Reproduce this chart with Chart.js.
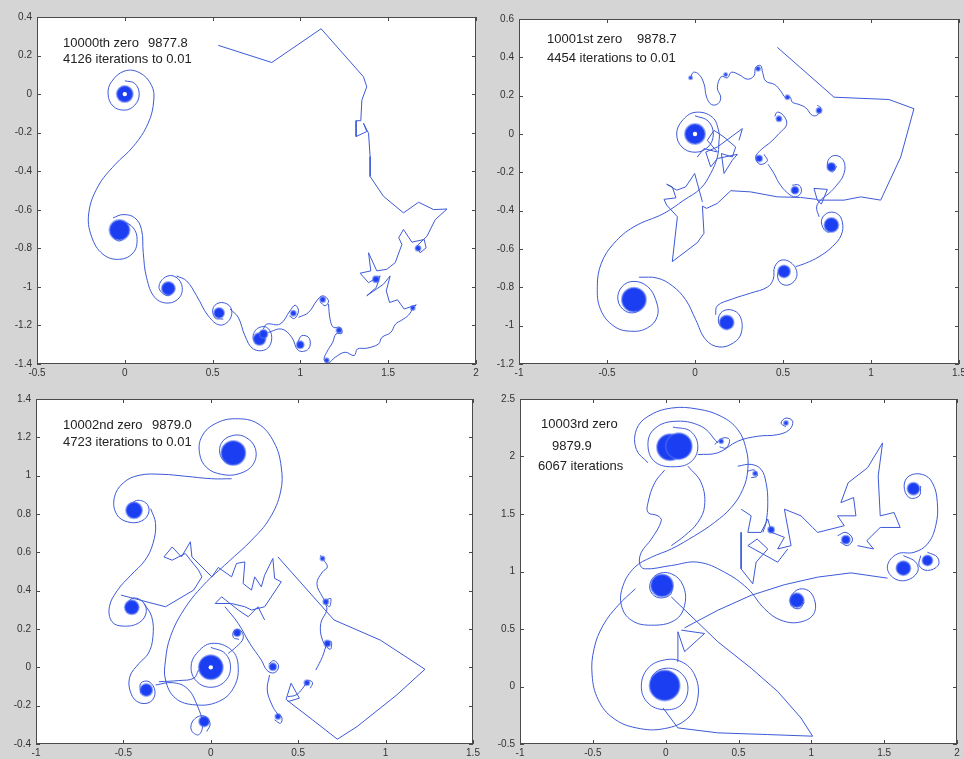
<!DOCTYPE html>
<html>
<head>
<meta charset="utf-8">
<script src="https://cdn.jsdelivr.net/npm/chart.js@4"></script>
<style>
html, body { margin: 0; padding: 0; background: #d5d5d5; overflow: hidden; width: 964px; height: 759px; }
canvas { position: absolute; }
.note { position: absolute; font: 13px "Liberation Sans", Arial, sans-serif; color: #222; line-height: 15px; white-space: nowrap; }
</style>
</head>
<body>
<canvas id="tl"></canvas>
<canvas id="tr"></canvas>
<canvas id="bl"></canvas>
<canvas id="br"></canvas>

<div class="note" style="left:63px;top:35px">10000th zero</div>
<div class="note" style="left:148px;top:35px">9877.8</div>
<div class="note" style="left:63px;top:51px">4126 iterations to 0.01</div>

<div class="note" style="left:547px;top:31px">10001st zero</div>
<div class="note" style="left:637px;top:31px">9878.7</div>
<div class="note" style="left:547px;top:50px">4454 iterations to 0.01</div>

<div class="note" style="left:63px;top:417px">10002nd zero</div>
<div class="note" style="left:152px;top:417px">9879.0</div>
<div class="note" style="left:63px;top:434px">4723 iterations to 0.01</div>

<div class="note" style="left:541px;top:416px">10003rd zero</div>
<div class="note" style="left:552px;top:438px">9879.9</div>
<div class="note" style="left:538px;top:458px">6067 iterations</div>

<script>
// ---- 10000th zero (top left) ----
const tlCurve = [
  [0,0.069],[0.057,0.055],[0.082,0],[0.057,-0.057],[0,-0.083],[-0.067,-0.062],[-0.095,0],[-0.076,0.064],
  [0,0.12],[0.086,0.11],[0.152,0.046],[0.165,-0.031],[0.133,-0.151],[0.048,-0.272],[-0.057,-0.367],
  [-0.152,-0.478],[-0.205,-0.616],[-0.19,-0.737],[-0.124,-0.831],[-0.029,-0.857],[0.048,-0.823],
  [0.07,-0.754],[0.048,-0.694],[-0.01,-0.664],[-0.067,-0.685],[-0.076,-0.728],[-0.029,-0.762],[0.019,-0.719],
  null,
  [-0.067,-0.642],[-0.01,-0.625],[0.057,-0.642],[0.095,-0.702],[0.105,-0.823],[0.124,-0.952],[0.171,-1.055],
  [0.247,-1.084],[0.314,-1.052],[0.323,-0.986],[0.276,-0.943],[0.219,-0.957],[0.196,-1.009],[0.247,-1.046],[0.285,-1.009],
  null,
  [0.295,-0.943],[0.352,-0.969],[0.409,-1.046],[0.475,-1.15],[0.542,-1.198],[0.599,-1.167],[0.603,-1.107],
  [0.551,-1.081],[0.504,-1.107],[0.513,-1.16],[0.561,-1.167],
  null,
  [0.599,-1.115],[0.646,-1.158],[0.684,-1.253],[0.732,-1.322],[0.808,-1.322],[0.837,-1.262],[0.808,-1.21],
  [0.751,-1.219],[0.732,-1.27],[0.78,-1.296],
  null,
  [0.817,-1.236],[0.894,-1.219],[0.951,-1.262],[0.989,-1.33],[1.046,-1.322],[1.051,-1.267],[1.008,-1.253],[0.985,-1.287],
  null,
  [0.789,-1.219],[0.808,-1.193],[0.884,-1.193],[0.941,-1.124],[0.97,-1.095],[0.989,-1.124],[0.966,-1.164],[0.937,-1.15],
  null,
  [0.989,-1.158],[1.046,-1.133],[1.093,-1.072],[1.127,-1.046],[1.16,-1.072],[1.141,-1.098],[1.112,-1.077],
  null,
  [1.16,-1.089],[1.169,-1.167],[1.188,-1.21],[1.226,-1.21],[1.236,-1.241],[1.203,-1.244],[1.184,-1.287],
  [1.15,-1.339],[1.135,-1.377],[1.16,-1.394],[1.198,-1.365],[1.255,-1.339],[1.306,-1.356],[1.325,-1.322],
  [1.378,-1.318],[1.445,-1.296],[1.464,-1.262],[1.515,-1.236],[1.542,-1.193],[1.578,-1.172],[1.616,-1.146],
  [1.644,-1.107],[1.66,-1.093]
];
const tlJag = [
  [0.532,0.253],[0.837,0.164],[1.118,0.339],[1.359,0.09],[1.378,0.038],[1.35,-0.031],[1.344,-0.138],
  [1.317,-0.138],[1.317,-0.22],[1.378,-0.194],[1.359,-0.151],[1.388,-0.203],[1.397,-0.324],[1.397,-0.427],
  [1.473,-0.53],[1.587,-0.616],[1.673,-0.561],[1.759,-0.599],[1.835,-0.596],[1.768,-0.651],[1.721,-0.737],
  [1.663,-0.788],[1.682,-0.823],[1.716,-0.797],[1.705,-0.754],[1.635,-0.768],[1.587,-0.702],[1.56,-0.745],
  [1.578,-0.78],[1.54,-0.874],[1.492,-0.909],[1.435,-0.917],[1.388,-0.823],[1.401,-0.917],[1.34,-0.929],
  [1.388,-0.978],[1.454,-0.943],[1.432,-1.003],[1.378,-1.046],[1.473,-0.986],[1.511,-0.943],[1.489,-1.021],
  [1.508,-1.081],[1.553,-1.067],[1.591,-1.115],[1.66,-1.093]
];
const tlCores = [[0,0],[-0.03,-0.705],[0.248,-1.008],[0.537,-1.135],[0.767,-1.27],[0.79,-1.245],[0.999,-1.3],
  [0.96,-1.137],[1.127,-1.066],[1.22,-1.225],[1.15,-1.38],[1.64,-1.11],[1.43,-0.96],[1.67,-0.8]];
const tlZero = [[0,0]];

// ---- 10001st zero (top right) ----
const trCurve = [
  [0,0.095],[0.074,0.068],[0.104,0],[0.074,-0.068],[0,-0.095],[-0.074,-0.068],[-0.104,0],[-0.074,0.068],
  [0,0.113],[0.098,0.088],[0.136,0.01],[0.136,-0.042],[0.127,-0.12],[0.089,-0.206],[0.032,-0.284],
  [-0.063,-0.345],[-0.176,-0.414],[-0.347,-0.484],[-0.46,-0.57],[-0.532,-0.674],[-0.555,-0.795],
  [-0.536,-0.917],[-0.46,-1.003],[-0.366,-1.029],[-0.271,-1.012],[-0.214,-0.951],[-0.223,-0.865],
  [-0.271,-0.795],[-0.347,-0.769],[-0.413,-0.795],[-0.438,-0.865],[-0.394,-0.925],[-0.324,-0.925],[-0.29,-0.873],
  null,
  [-0.318,-0.747],[-0.214,-0.752],[-0.129,-0.792],[-0.053,-0.865],[0.004,-0.969],[0.061,-1.073],[0.136,-1.111],
  [0.218,-1.09],[0.263,-1.038],[0.256,-0.951],[0.203,-0.917],[0.146,-0.934],[0.136,-0.99],[0.18,-1.017],
  null,
  [0.117,-0.943],[0.127,-0.896],[0.212,-0.861],[0.316,-0.83],[0.411,-0.799],[0.445,-0.757],[0.453,-0.692],
  [0.496,-0.657],[0.559,-0.683],[0.578,-0.744],[0.534,-0.787],[0.483,-0.775],[0.472,-0.723],[0.515,-0.7],
  null,
  [0.572,-0.692],[0.629,-0.674],[0.705,-0.64],[0.78,-0.588],[0.831,-0.527],[0.837,-0.458],[0.805,-0.414],
  [0.748,-0.414],[0.718,-0.458],[0.748,-0.51],[0.799,-0.497],
  null,
  [0.705,-0.432],[0.691,-0.38],[0.718,-0.341],[0.761,-0.31],[0.805,-0.267],[0.843,-0.215],[0.85,-0.154],
  [0.818,-0.116],[0.771,-0.12],[0.752,-0.163],[0.78,-0.198],[0.805,-0.168],
  null,
  [-0.025,0.293],[-0.009,0.322],[0.023,0.31],[0.051,0.262],[0.066,0.192],[0.093,0.154],[0.131,0.158],
  [0.146,0.192],[0.127,0.241],[0.15,0.3],[0.184,0.293],[0.206,0.322],[0.25,0.31],[0.297,0.286],[0.335,0.303],
  [0.345,0.348],[0.373,0.357],[0.384,0.322],[0.402,0.276],[0.453,0.258],[0.487,0.224],[0.515,0.189],
  [0.54,0.192],[0.553,0.166],[0.591,0.154],[0.629,0.137],[0.667,0.097],[0.699,0.102],[0.714,0.137],[0.695,0.149],
  null,
  [0.453,0.092],[0.468,0.114],[0.502,0.097],[0.521,0.05],[0.477,0.002],[0.43,-0.042],[0.377,-0.081],
  [0.345,-0.12],[0.369,-0.158],[0.411,-0.14],[0.392,-0.106],
  null,
  [0.415,-0.158],[0.449,-0.206],[0.477,-0.255],[0.525,-0.307],[0.572,-0.328],[0.604,-0.302],[0.591,-0.267],[0.553,-0.267]
];
const trJag = [
  [0.468,0.452],[0.79,0.192],[1.102,0.18],[1.244,0.132],[1.169,-0.12],[1.055,-0.345],[0.941,-0.328],
  [0.847,-0.345],[0.695,-0.345],[0.676,-0.284],[0.752,-0.289],[0.718,-0.366],[0.691,-0.341],[0.6,-0.331],
  [0.468,-0.328],[0.316,-0.302],[0.203,-0.296],[0.127,-0.362],[0.066,-0.388],[0.042,-0.376],[0.051,-0.518],
  [0.013,-0.567],[-0.129,-0.666],[-0.1,-0.432],[-0.161,-0.371],[-0.176,-0.341],[-0.108,-0.333],[-0.129,-0.276],
  [-0.161,-0.262],[-0.104,-0.293],[-0.053,-0.276],[-0.002,-0.206],[0.042,-0.354],
  null,
  [0.013,-0.12],[0.051,-0.076],[0.127,-0.094],[0.07,-0.033],[0.108,0.019],[0.165,-0.016],[0.231,-0.068],
  [0.212,-0.12],[0.15,-0.102],[0.165,-0.206],[0.212,-0.137],[0.241,-0.106],[0.127,-0.128],[0.089,-0.172],
  [0.061,-0.094],[0.127,-0.068],[0.269,0.028],[0.25,-0.033]
];
const trCores = [[0,0],[-0.347,-0.865],[0.18,-0.983],[0.506,-0.717],[0.775,-0.475],[0.775,-0.172],[0.568,-0.293],
  [0.364,-0.128],[0.477,0.08],[0.705,0.123],[0.525,0.192],[0.358,0.34],[0.174,0.31],[-0.025,0.293]];
const trZero = [[0,0]];

// ---- 10002nd zero (bottom left) ----
const blCurve = [
  [0,0.104],[0.081,0.073],[0.113,0],[0.081,-0.073],[0,-0.104],[-0.081,-0.073],[-0.113,0],[-0.081,0.073],
  [0.006,0.125],[0.119,0.09],[0.157,0.003],[0.129,-0.109],[0.043,-0.179],[-0.089,-0.196],[-0.202,-0.161],
  [-0.259,-0.066],[-0.259,0.038],[-0.231,0.16],[-0.155,0.299],[-0.042,0.429],[0.1,0.55],[0.233,0.663],
  [0.336,0.776],[0.399,0.915],[0.403,1.045],[0.361,1.175],[0.27,1.271],[0.142,1.297],[0.025,1.271],
  [-0.051,1.205],[-0.064,1.115],[-0.023,1.042],[0.062,1.007],[0.161,1.01],[0.242,1.059],[0.255,1.141],
  [0.198,1.201],[0.119,1.208],[0.059,1.167],[0.059,1.097],[0.119,1.059],[0.176,1.089],
  null,
  [0.119,0.984],[0.006,0.984],[-0.146,0.997],[-0.278,1.007],[-0.41,1.002],[-0.501,0.962],[-0.552,0.885],
  [-0.539,0.799],[-0.476,0.759],[-0.395,0.764],[-0.354,0.811],[-0.372,0.858],[-0.433,0.868],[-0.467,0.819],
  null,
  [-0.344,0.828],[-0.316,0.75],[-0.331,0.646],[-0.376,0.559],[-0.457,0.481],[-0.533,0.403],[-0.58,0.316],
  [-0.565,0.238],[-0.501,0.215],[-0.41,0.233],[-0.369,0.29],[-0.395,0.347],[-0.452,0.359],[-0.482,0.313],
  null,
  [-0.382,0.333],[-0.338,0.264],[-0.331,0.16],[-0.357,0.073],[-0.41,0.021],[-0.463,-0.049],[-0.457,-0.135],
  [-0.41,-0.184],[-0.344,-0.179],[-0.319,-0.127],[-0.353,-0.075],[-0.401,-0.083],[-0.401,-0.135],
  null,
  [-0.316,-0.092],[-0.221,-0.08],[-0.136,-0.109],[-0.079,-0.196],[-0.047,-0.3],[-0.07,-0.352],[-0.112,-0.326],
  [-0.098,-0.274],[-0.042,-0.253],[-0.004,-0.292],[-0.023,-0.335],
  null,
  [-0.297,-0.075],[-0.183,-0.069],[-0.098,-0.057],[-0.07,-0.014],
  null,
  [0.1,0.073],[0.147,0.108],[0.185,0.151],[0.172,0.191],[0.134,0.191],[0.129,0.156],[0.161,0.146],
  null,
  [0.081,0.316],[0.157,0.229],[0.223,0.125],[0.289,0.038],[0.323,-0.017],[0.365,-0.028],[0.388,0.007],
  [0.361,0.035],[0.331,0.017],
  null,
  [0.336,-0.04],[0.323,-0.118],[0.35,-0.196],[0.38,-0.24],[0.406,-0.26],[0.399,-0.292],[0.365,-0.274],
  null,
  [0.44,-0.153],[0.488,-0.144],[0.526,-0.109],[0.558,-0.069],[0.582,-0.08],[0.569,-0.109],
  null,
  [0.601,-0.014],[0.639,0.056],[0.667,0.125],[0.69,0.134],[0.682,0.094],[0.639,0.142],[0.629,0.229],
  [0.664,0.299],[0.658,0.342],[0.686,0.359],[0.677,0.316],[0.639,0.368],[0.607,0.437],[0.639,0.498],
  [0.667,0.524],[0.639,0.568],[0.626,0.585]
];
const blJag = [
  [0.384,0.576],[0.705,0.247],[0.97,0.142],[1.225,-0.01],[1.064,-0.144],[0.837,-0.309],[0.724,-0.375],
  [0.582,-0.274],[0.459,-0.188],[0.431,-0.167],[0.459,-0.083],[0.507,-0.161],[0.44,-0.179],
  null,
  [-0.514,0.377],[-0.259,0.316],[-0.098,0.403],[-0.051,0.472],[-0.07,0.507],[-0.146,0.594],[-0.221,0.559],
  [-0.268,0.576],[-0.221,0.628],[-0.168,0.576],[-0.117,0.655],[-0.108,0.576],[0.006,0.472],[0.043,0.521],
  [0.119,0.472],[0.147,0.542],[0.195,0.55],[0.185,0.437],[0.233,0.403],[0.251,0.472],[0.289,0.42],
  [0.308,0.481],[0.355,0.568],[0.365,0.464],[0.403,0.446],[0.308,0.316],[0.233,0.299],[0.195,0.316],
  [0.119,0.333],[0.025,0.333],[0.062,0.368],[0.157,0.299],[0.214,0.264],[0.27,0.316],[0.308,0.247]
];
const blCores = [[0,0],[0.129,1.118],[-0.439,0.819],[-0.452,0.313],[-0.369,-0.118],[-0.038,-0.283],[0.151,0.181],
  [0.355,0.003],[0.384,-0.257],[0.55,-0.08],[0.667,0.125],[0.658,0.342],[0.639,0.568]];
const blZero = [[0,0]];

// ---- 10003rd zero (bottom right) ----
const brCurve = [
  [0.05,2.256],[0.171,2.219],[0.221,2.084],[0.171,1.951],[0.05,1.911],[-0.071,1.951],[-0.121,2.084],
  [-0.087,2.228],[0.05,2.305],[0.244,2.262],[0.358,2.118],
  null,
  [-0.121,1.945],[-0.201,2.061],[-0.201,2.233],[-0.121,2.349],[0.039,2.421],[0.221,2.412],[0.381,2.349],
  [0.495,2.233],[0.553,2.061],[0.564,1.888],[0.53,1.715],[0.45,1.556],[0.336,1.427],[0.199,1.311],
  [0.039,1.196],[-0.098,1.124],[-0.212,1.037],[-0.292,0.879],[-0.304,0.706],[-0.235,0.576],[-0.098,0.533],
  [0.062,0.576],[0.13,0.706],[0.119,0.879],[0.039,0.98],[-0.064,0.971],[-0.11,0.865],[-0.064,0.778],
  [0.027,0.793],[0.05,0.879],
  null,
  [-0.208,0.85],[-0.326,0.706],[-0.429,0.533],[-0.491,0.331],[-0.505,0.101],[-0.463,-0.115],[-0.361,-0.274],
  [-0.201,-0.36],[-0.007,-0.366],[0.153,-0.274],[0.221,-0.101],[0.199,0.101],[0.107,0.216],[-0.007,0.231],
  [-0.121,0.159],[-0.167,0],[-0.121,-0.144],[-0.007,-0.202],[0.107,-0.159],[0.153,-0.014],[0.107,0.115],
  [0.005,0.159],[-0.087,0.101],[-0.098,-0.014],
  null,
  [0.221,2.017],[0.358,2.032],[0.495,2.133],[0.632,2.176],[0.769,2.19],[0.849,2.233],[0.872,2.305],
  [0.826,2.334],[0.792,2.291],[0.826,2.257],
  null,
  [0.336,2.104],[0.393,2.161],[0.438,2.147],[0.415,2.075],[0.37,2.084],
  null,
  [0.495,1.916],[0.587,1.931],[0.655,1.888],[0.689,1.772],[0.701,1.599],[0.689,1.427],[0.667,1.34],
  null,
  [0.564,1.873],[0.609,1.882],[0.628,1.83],[0.587,1.816],
  null,
  [-0.007,1.882],[-0.075,1.772],[-0.121,1.599],[-0.121,1.513],[-0.053,1.484],[-0.03,1.441],[-0.098,1.282],
  [-0.167,1.167],[-0.178,1.066],[-0.144,1.023],[0.039,1.052],[0.221,1.081],[0.404,0.994],[0.564,0.85],
  [0.678,0.677],[0.792,0.576],[0.929,0.562],[1.021,0.643],[1.009,0.793],[0.941,0.85],[0.872,0.807],
  [0.861,0.706],[0.918,0.677],[0.952,0.735],
  null,
  [0.153,1.916],[0.244,1.772],[0.267,1.571],[0.221,1.427],[0.13,1.311],[0.039,1.225],
  null,
  [1.632,1.138],[1.717,1.081],[1.728,0.994],[1.648,0.922],[1.557,0.951],[1.523,1.052],[1.591,1.153],
  [1.705,1.167],[1.797,1.239],[1.854,1.398],[1.865,1.599],[1.831,1.772],[1.763,1.844],[1.671,1.83],
  [1.637,1.744],[1.671,1.643],[1.74,1.657],[1.751,1.744],
  null,
  [1.797,1.167],[1.865,1.124],[1.87,1.052],[1.797,1.009],[1.74,1.052],[1.751,1.138],
  null,
  [1.18,1.311],[1.237,1.34],[1.283,1.282],[1.249,1.225],[1.199,1.254]
];
const brJag = [
  [0.518,1.542],[0.587,1.484],[0.564,1.34],[0.655,1.34],[0.701,1.455],[0.728,1.34],[0.815,1.297],
  [0.769,1.196],[0.861,1.225],[0.815,1.542],[0.929,1.484],[1.009,1.383],[1.043,1.34],[1.135,1.369],
  [1.226,1.398],[1.18,1.484],[1.306,1.484],[1.29,1.643],[1.203,1.599],[1.253,1.772],[1.386,1.902],
  [1.489,2.118],[1.459,1.83],[1.473,1.484],[1.568,1.513],[1.61,1.383],[1.473,1.383],[1.381,1.268],
  [1.427,1.196],[1.317,1.225],
  null,
  [0.518,1.34],[0.518,1.023],[0.598,0.893],[0.621,1.081],[0.701,1.196],[0.628,1.282],[0.564,1.225],
  [0.769,1.081],[0.838,1.196],
  null,
  [0.039,0.778],[0.358,0.389],[0.587,0.159],[0.769,-0.043],[0.929,-0.274],[1.009,-0.432],[0.701,-0.418],
  [0.358,-0.403],[0.084,-0.36],[-0.018,-0.187],
  null,
  [0.08,0.216],[0.084,0.476],[0.13,0.303],[0.267,0.461],[0.107,0.49],
  null,
  [0.13,0.51],[0.358,0.663],[0.587,0.793],[0.815,0.885],[1.043,0.951],[1.272,0.988],[1.523,0.942]
];
const brCores = [[0.03,2.08],[0.09,2.09],[-0.007,0.009],[-0.025,0.879],[0.9,0.749],[1.632,1.029],[1.701,1.72],
  [1.797,1.095],[1.237,1.277],[0.724,1.363],[0.826,2.291],[0.381,2.133],[0.614,1.853]];
const brZero = [];

// axis ranges and ticks: [min, max, step]
const tlX = [-0.5, 2, 0.5], tlY = [-1.4, 0.4, 0.2];
const trX = [-1, 1.5, 0.5], trY = [-1.2, 0.6, 0.2];
const blX = [-1, 1.5, 0.5], blY = [-0.4, 1.4, 0.2];
const brX = [-1, 2, 0.5], brY = [-0.5, 2.5, 0.5];

const LINE = '#3d5ad8';
const CORE = '#1b3ef2';

const toPts = arr => arr.map(p => p ? { x: p[0], y: p[1] } : { x: null, y: null });

// white plot area, MATLAB style box with inward ticks on all sides
const frame = {
  id: 'frame',
  beforeDatasetsDraw(chart) {
    const { ctx, chartArea: a } = chart;
    ctx.save();
    ctx.fillStyle = '#ffffff';
    ctx.fillRect(a.left, a.top, a.width, a.height);
    ctx.restore();
  },
  afterDatasetsDraw(chart) {
    const { ctx, chartArea: a, scales: { x, y } } = chart;
    ctx.save();
    ctx.strokeStyle = '#4a4a4a';
    ctx.lineWidth = 1;
    ctx.strokeRect(a.left + 0.5, a.top + 0.5, a.width - 1, a.height - 1);
    ctx.beginPath();
    x.ticks.forEach(t => {
      const px = Math.round(x.getPixelForValue(t.value)) + 0.5;
      ctx.moveTo(px, a.bottom); ctx.lineTo(px, a.bottom - 4);
      ctx.moveTo(px, a.top); ctx.lineTo(px, a.top + 4);
    });
    y.ticks.forEach(t => {
      const py = Math.round(y.getPixelForValue(t.value)) + 0.5;
      ctx.moveTo(a.left, py); ctx.lineTo(a.left + 4, py);
      ctx.moveTo(a.right, py); ctx.lineTo(a.right - 4, py);
    });
    ctx.stroke();
    ctx.restore();
  }
};

const tickFont = { family: '"Liberation Sans", Arial, sans-serif', size: 10 };
const fmt = v => String(Math.round(v * 10) / 10);

function panel(id, box, xr, yr, curve, jag, cores, coreR, zero) {
  const [L, T, R, B] = box;
  const cv = document.getElementById(id);
  cv.width = R - L + 50;
  cv.height = B - T + 28;
  cv.style.left = (L - 40) + 'px';
  cv.style.top = (T - 10) + 'px';
  new Chart(cv.getContext('2d'), {
    type: 'scatter',
    data: {
      datasets: [
        { data: toPts(jag), order: 3, showLine: true, tension: 0, borderColor: LINE, borderWidth: 1, pointRadius: 0 },
        { data: toPts(curve), order: 2, showLine: true, tension: 0.4, borderColor: LINE, borderWidth: 1, pointRadius: 0 },
        { data: toPts(cores), order: 1, showLine: false, pointRadius: coreR, pointBackgroundColor: CORE,
          pointBorderColor: 'rgba(80,110,240,0.55)', pointBorderWidth: 2 },
        { data: toPts(zero), order: 0, showLine: false, pointRadius: 2.2, pointBackgroundColor: '#ffffff',
          pointBorderColor: '#ffffff', pointBorderWidth: 0 }
      ]
    },
    options: {
      responsive: false,
      animation: false,
      devicePixelRatio: 1,
      layout: { autoPadding: false, padding: { top: 10, right: 10, left: 0, bottom: 0 } },
      plugins: { legend: { display: false }, tooltip: { enabled: false } },
      scales: {
        x: {
          type: 'linear', min: xr[0], max: xr[1],
          ticks: { stepSize: xr[2], autoSkip: false, maxRotation: 0, padding: 3, color: '#333', font: tickFont, callback: fmt },
          grid: { display: false, drawTicks: false },
          border: { display: false },
          afterFit(s) { s.height = 18; }
        },
        y: {
          type: 'linear', min: yr[0], max: yr[1],
          ticks: { stepSize: yr[2], autoSkip: false, padding: 5, color: '#333', font: tickFont, callback: fmt },
          grid: { display: false, drawTicks: false },
          border: { display: false },
          afterFit(s) { s.width = 40; }
        }
      }
    },
    plugins: [frame]
  });
}

panel('tl', [37, 16, 476, 364], tlX, tlY, tlCurve, tlJag, tlCores,
  [8, 10, 6.5, 5, 6, 4, 3.5, 2.5, 2.5, 2.5, 2, 2, 3, 2.5], tlZero);
panel('tr', [519, 18, 959, 364], trX, trY, trCurve, trJag, trCores,
  [10, 12, 7, 6, 7, 4, 3.5, 3, 2.5, 2.5, 2, 2, 1.5, 1.5], trZero);
panel('bl', [36, 398, 473, 744], blX, blY, blCurve, blJag, blCores,
  [12, 12, 8, 7, 6, 5, 3.5, 3.5, 2.5, 2.5, 3, 2.5, 2], blZero);
panel('br', [520, 398, 957, 744], brX, brY, brCurve, brJag, brCores,
  [13, 13, 15, 11, 7, 7, 6, 5, 4, 3, 2, 2, 2], brZero);
</script>
</body>
</html>
